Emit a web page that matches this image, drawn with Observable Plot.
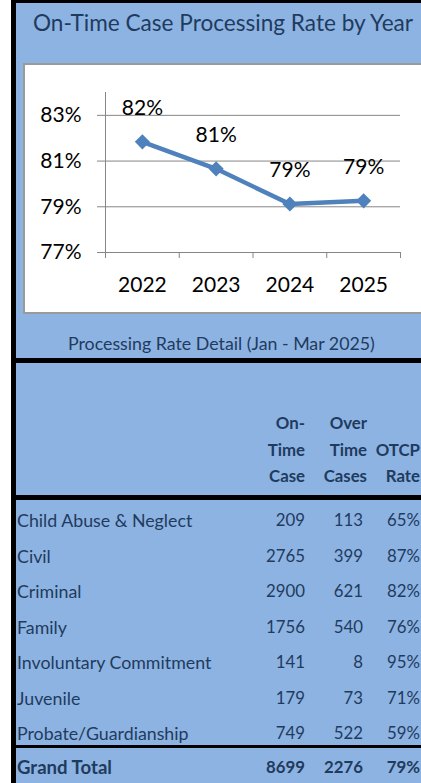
<!DOCTYPE html>
<html><head><meta charset="utf-8">
<script src="https://cdn.jsdelivr.net/npm/d3@7"></script>
<script src="https://cdn.jsdelivr.net/npm/@observablehq/plot@0.6"></script>
<style>
html,body{margin:0;padding:0;background:#fff;overflow:hidden;}
body{width:421px;height:783px;position:relative;font-family:Lato,"Open Sans",sans-serif;color:#1F3B5E;}
.abs{position:absolute;white-space:nowrap;}
#panel{left:11px;top:0;width:410px;height:783px;background:#8DB3E2;border-left:5px solid #000;border-top:3px solid #000;box-sizing:border-box;}
.sep{left:11px;width:410px;background:#000;}
#title{left:33px;top:8px;font-size:22.6px;line-height:30px;}
#chartbox{left:23px;top:63px;width:398px;height:251px;background:#fff;border:2px solid #9A9A9A;border-right:none;box-sizing:border-box;}
#chart{left:25px;top:65px;}
#subtitle{left:68px;top:332px;font-size:17.8px;line-height:22px;}
.cell{font-size:16.8px;line-height:22px;height:22px;}
.name{font-size:17.8px;}
.hdr{font-weight:bold;}
.tot{font-size:18.6px;}
</style>
</head>
<body>
<div id="panel" class="abs"></div>
<div class="abs sep" style="top:358px;height:5px"></div>
<div class="abs sep" style="top:495px;height:5px"></div>
<div class="abs sep" style="top:745px;height:3px"></div>
<div id="title" class="abs">On-Time Case Processing Rate by Year</div>
<div id="chartbox" class="abs"></div>
<div id="chart" class="abs"></div>
<div id="subtitle" class="abs">Processing Rate Detail (Jan - Mar 2025)</div>
<div id="table"></div>
<script>
const years = ["2022", "2023", "2024", "2025"];
const rates = [81.84, 80.66, 79.12, 79.26];
const yTicks = [77, 79, 81, 83];

const categories = ["Child Abuse & Neglect", "Civil", "Criminal", "Family", "Involuntary Commitment", "Juvenile", "Probate/Guardianship"];
const onTimeCases = [209, 2765, 2900, 1756, 141, 179, 749];
const overTimeCases = [113, 399, 621, 540, 8, 73, 522];
const otcpRates = ["65%", "87%", "82%", "76%", "95%", "71%", "59%"];
const totalRow = ["Grand Total", 8699, 2276, "79%"];
const headerCol1 = ["On-", "Time", "Case"];
const headerCol2 = ["Over", "Time", "Cases"];
const headerCol3 = ["", "OTCP", "Rate"];

const data = years.map((year, i) => ({year, rate: rates[i]}));
const xOf = d => years.indexOf(d.year) + 0.5;

const chart = Plot.plot({
  width: 396, height: 247,
  marginLeft: 80, marginRight: 21, marginTop: 27, marginBottom: 60,
  style: {fontFamily: "Lato, sans-serif", fontSize: "21px", color: "#000", background: "transparent", overflow: "visible"},
  x: {domain: [0, years.length], axis: null},
  y: {domain: [77, 84], axis: null},
  marks: [
    Plot.gridY(yTicks, {stroke: "#868686", strokeOpacity: 1}),
    Plot.axisY(yTicks, {label: null, tickSize: 8, tickPadding: 16, tickFormat: d => d + "%", stroke: "#868686", fill: "#000", fontSize: 21}),
    Plot.ruleX([0], {stroke: "#868686"}),
    Plot.axisX(d3.range(years.length + 1), {label: null, tickSize: 6, tickFormat: () => "", stroke: "#868686"}),
    Plot.axisX(years.map((y, i) => i + 0.5), {label: null, tickSize: 0, tickPadding: 25, tickFormat: t => years[Math.floor(t)], fill: "#000", fontSize: 21}),
    Plot.line(data, {x: xOf, y: "rate", stroke: "#4F81BD", strokeWidth: 4.5}),
    Plot.dot(data, {x: xOf, y: "rate", symbol: "diamond2", r: 6.8, fill: "#4F81BD", stroke: null}),
    Plot.text(data, {x: xOf, y: "rate", text: d => Math.round(d.rate) + "%", dy: -34, fontSize: 21, fill: "#000"})
  ]
});
document.getElementById("chart").appendChild(chart);

const table = document.getElementById("table");
function cell(text, center, opts) {
  const el = document.createElement("div");
  el.className = "abs cell" + (opts.bold ? " hdr" : "") + (opts.cls ? " " + opts.cls : "");
  el.textContent = text;
  el.style.top = (center - 11) + "px";
  if (opts.left != null) el.style.left = opts.left + "px";
  if (opts.right != null) el.style.right = (421 - opts.right) + "px";
  table.appendChild(el);
}
const headerCenters = [423, 450, 476];
headerCol1.forEach((t, i) => cell(t, headerCenters[i], {right: 305, bold: true}));
headerCol2.forEach((t, i) => cell(t, headerCenters[i], {right: 367, bold: true}));
headerCol3.forEach((t, i) => cell(t, headerCenters[i], {right: 420, bold: true}));
categories.forEach((c, i) => {
  const y = 520 + i * 35.5;
  cell(c, y, {left: 17, cls: "name"});
  cell(String(onTimeCases[i]), y, {right: 305});
  cell(String(overTimeCases[i]), y, {right: 363});
  cell(otcpRates[i], y, {right: 420});
});
cell(totalRow[0], 767, {left: 17, bold: true, cls: "tot"});
cell(String(totalRow[1]), 767, {right: 305, bold: true});
cell(String(totalRow[2]), 767, {right: 363, bold: true});
cell(totalRow[3], 767, {right: 420, bold: true});
</script>
</body></html>
